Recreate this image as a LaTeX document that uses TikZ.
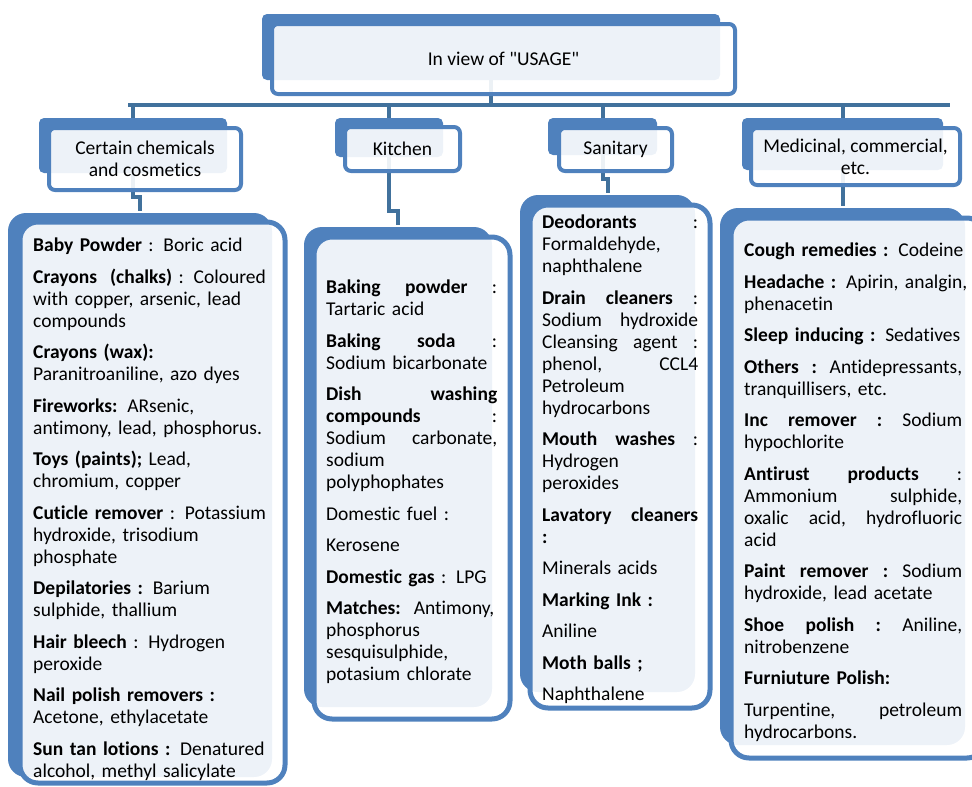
\documentclass[tikz,border=0pt]{standalone}
\usepackage{fontspec}
\setmainfont{Carlito}[Ligatures=NoCommon]
\definecolor{boxblue}{HTML}{4F81BD}
\definecolor{linkblue}{HTML}{41719C}
\hyphenpenalty=10000

\begin{document}
\begin{tikzpicture}[x=1pt, y=-1pt,
  font=\fontsize{19.5}{22}\selectfont,
  bkbox/.style = {fill=boxblue, inner sep=0pt, rounded corners=5pt},
  frbox/.style = {draw=boxblue, line width=4pt, fill=white,
    fill opacity=0.9, text opacity=1, inner sep=0pt,
    rounded corners=6pt, align=center},
  big/.style = {rounded corners=18pt, line width=5pt},
  link/.style = {draw=linkblue, line width=4pt},
  listtext/.style = {anchor=north west, inner sep=0pt, align=left}]
  \useasboundingbox (0,0) rectangle (972,787);

  % back plates
  \node[bkbox, minimum width=458pt, minimum height=66pt] (top-bk) at (491,47) {};
  \node[bkbox, minimum width=188pt, minimum height=55pt] (chem-bk) at (133,145.5) {};
  \node[bkbox, minimum width=108pt, minimum height=39pt] (kit-bk) at (389,137.5) {};
  \node[bkbox, minimum width=109pt, minimum height=37pt] (san-bk) at (602.5,136.5) {};
  \node[bkbox, minimum width=201pt, minimum height=52pt] (med-bk) at (842.5,144) {};
  \node[bkbox, big, minimum width=264pt, minimum height=564pt] (chem-body-bk) at (140,495) {};
  \node[bkbox, big, minimum width=188pt, minimum height=480pt] (kit-body-bk) at (398,467) {};
  \node[bkbox, big, minimum width=175pt, minimum height=497pt] (san-body-bk) at (607.5,443.5) {};
  \node[bkbox, big, minimum width=245pt, minimum height=537pt] (med-body-bk) at (842.5,476.5) {};

  % connectors
  \coordinate (bus-w) at (128,105);
  \coordinate (bus-e) at (950,105);
  \draw[link] (bus-w) -- (bus-e);
  \draw[link] (top-bk.south) -- (top-bk.south |- bus-w);
  \foreach \n in {chem, kit, san, med} {
    \draw[link] (\n-bk.north |- bus-w) -- (\n-bk.north);
    \draw[link] (\n-bk.south) |- ([yshift=14pt]\n-body-bk.north) -- (\n-body-bk.north);
  }

  % front frames
  \node[frbox, minimum width=463pt, minimum height=70pt] (top) at (503.5,59) {In view of \textquotedbl USAGE\textquotedbl};
  \node[frbox, minimum width=192pt, minimum height=62pt] (chem) at (145,159) {Certain chemicals\\and cosmetics};
  \node[frbox, minimum width=115pt, minimum height=44pt] (kit) at (402.5,149) {Kitchen};
  \node[frbox, minimum width=113pt, minimum height=43pt] (san) at (615.5,149.5) {Sanitary};
  \node[frbox, minimum width=209pt, minimum height=57pt] (med) at (855.5,156.5) {Medicinal, commercial,\\etc.};
  \node[frbox, big, minimum width=265pt, minimum height=561pt] (chem-body) at (152.5,502.5) {};
  \node[frbox, big, minimum width=196pt, minimum height=482pt] (kit-body) at (412,478) {};
  \node[frbox, big, minimum width=180pt, minimum height=503pt] (san-body) at (620,456.5) {};
  \node[frbox, big, minimum width=254pt, minimum height=540pt] (med-body) at (858,488) {};

  % lists
  \node[listtext, text width=250pt] (chem-text) at (33,236) {\strut
    \textbf{Baby Powder} : Boric acid\\[9.5pt]
    \textbf{Crayons\ \ (chalks)} : Coloured\\ with copper, arsenic, lead\\ compounds\\[9.5pt]
    \textbf{Crayons (wax):}\\ Paranitroaniline, azo dyes\\[9.5pt]
    \textbf{Fireworks:} ARsenic,\\ antimony, lead, phosphorus.\\[9.5pt]
    \textbf{Toys (paints);} Lead,\\ chromium, copper\\[9.5pt]
    \textbf{Cuticle remover} : Potassium\\ hydroxide, trisodium\\ phosphate\\[9.5pt]
    \textbf{Depilatories :} Barium\\ sulphide, thallium\\[9.5pt]
    \textbf{Hair bleech} : Hydrogen\\ peroxide\\[9.5pt]
    \textbf{Nail polish removers :}\\ Acetone, ethylacetate\\[9.5pt]
    \textbf{Sun tan lotions :} Denatured\\ alcohol, methyl salicylate};
  \node[listtext, text width=171pt] (kit-text) at (326,278) {\strut
    \textbf{Baking}\hfill\textbf{powder}\hfill:\\ Tartaric acid\\[9.5pt]
    \textbf{Baking}\hfill\textbf{soda}\hfill:\\ \mbox{Sodium bicarbonate}\\[9.5pt]
    \textbf{Dish}\hfill\textbf{washing}\\ \textbf{compounds}\hfill:\\
    Sodium\hfill carbonate,\\ sodium\\ polyphophates\\[9.5pt]
    Domestic fuel :\\[9.5pt]
    Kerosene\\[9.5pt]
    \textbf{Domestic gas} : LPG\\[9.5pt]
    \mbox{\textbf{Matches:}\ \ Antimony,}\\ phosphorus\\ sesquisulphide,\\ potasium chlorate};
  \node[listtext, text width=156pt] (san-text) at (542,213) {\strut
    \textbf{Deodorants}\hfill:\\ Formaldehyde,\\ naphthalene\\[9.5pt]
    \textbf{Drain}\hfill\textbf{cleaners}\hfill:\\ Sodium\hfill hydroxide\\
    Cleansing\hfill agent\hfill:\\ phenol,\hfill CCL4\\ Petroleum\\ hydrocarbons\\[9.5pt]
    \textbf{Mouth}\hfill\textbf{washes}\hfill:\\ Hydrogen\\ peroxides\\[9.5pt]
    \textbf{Lavatory}\hfill\textbf{cleaners}\\ \textbf{:}\\[9.5pt]
    Minerals acids\\[9.5pt]
    \textbf{Marking Ink :}\\[9.5pt]
    Aniline\\[9.5pt]
    \textbf{Moth balls ;}\\[9.5pt]
    Naphthalene};
  \node[listtext, text width=218pt] (med-text) at (744,241) {\strut
    \mbox{\textbf{Cough remedies :} Codeine}\\[9.5pt]
    \mbox{\textbf{Headache :} Apirin, analgin,}\\ phenacetin\\[9.5pt]
    \mbox{\textbf{Sleep inducing :} Sedatives}\\[9.5pt]
    \textbf{Others}\hfill\textbf{:}\hfill Antidepressants,\\ \mbox{tranquillisers, etc.}\\[9.5pt]
    \textbf{Inc}\hfill\textbf{remover}\hfill\textbf{:}\hfill Sodium\\ hypochlorite\\[9.5pt]
    \textbf{Antirust}\hfill\textbf{products}\hfill:\\ Ammonium\hfill sulphide,\\
    oxalic\hfill acid,\hfill hydrofluoric\\ acid\\[9.5pt]
    \textbf{Paint}\hfill\textbf{remover}\hfill\textbf{:}\hfill Sodium\\ \mbox{hydroxide, lead acetate}\\[9.5pt]
    \textbf{Shoe}\hfill\textbf{polish}\hfill\textbf{:}\hfill Aniline,\\ nitrobenzene\\[9.5pt]
    \textbf{Furniuture Polish:}\\[9.5pt]
    Turpentine,\hfill petroleum\\ hydrocarbons.};
\end{tikzpicture}
\end{document}
